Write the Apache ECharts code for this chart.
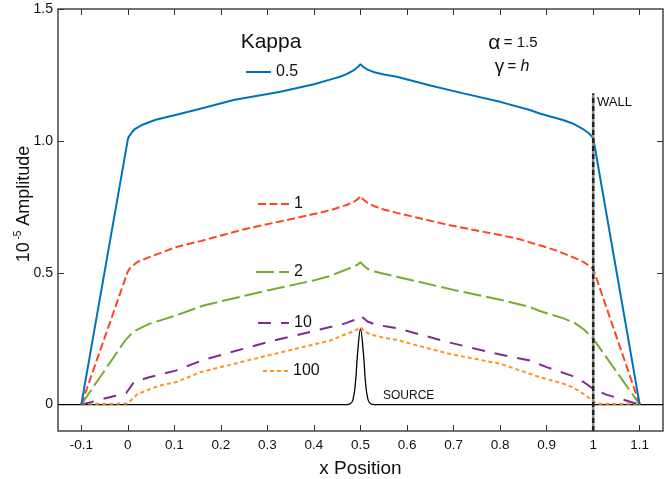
<!doctype html>
<html>
<head>
<meta charset="UTF-8">
<title>Kappa amplitude</title>
<script src="https://cdn.jsdelivr.net/npm/echarts@6/dist/echarts.min.js"></script>
<style>
  html, body { margin: 0; padding: 0; background: #fff; }
  #main { width: 670px; height: 479px; }
</style>
</head>
<body>
<div id="main"></div>
<script>
// values: [x position, amplitude (1e-5)]
var kappa05 = [[-0.1,0],[0,1.005],[0.002,1.015],[0.008,1.03],[0.015,1.045],[0.03,1.06],[0.06,1.08],
  [0.1,1.097],[0.156,1.122],[0.227,1.155],[0.328,1.186],[0.4,1.215],[0.44,1.235],[0.456,1.243],
  [0.47,1.253],[0.485,1.267],[0.495,1.281],[0.5,1.291],[0.505,1.282],[0.515,1.27],[0.53,1.26],
  [0.55,1.252],[0.578,1.243],[0.65,1.21],[0.721,1.18],[0.8,1.148],[0.864,1.117],[0.885,1.104],
  [0.935,1.079],[0.956,1.066],[0.978,1.045],[0.99,1.03],[1.0,1.012],[1.1,0]];
var kappa1 = [[-0.1,0],[0,0.505],[0.006,0.521],[0.02,0.54],[0.046,0.559],[0.103,0.597],[0.156,0.62],
  [0.25,0.665],[0.371,0.711],[0.435,0.737],[0.456,0.749],[0.47,0.757],[0.485,0.768],[0.495,0.78],
  [0.5,0.791],[0.505,0.78],[0.515,0.765],[0.53,0.752],[0.55,0.74],[0.578,0.727],[0.692,0.68],
  [0.8,0.643],[0.842,0.627],[0.885,0.604],[0.92,0.585],[0.956,0.559],[0.98,0.54],[1.0,0.515],[1.1,0]];
var kappa2 = [[-0.1,0],[-0.005,0.245],[0.002,0.258],[0.01,0.275],[0.046,0.306],[0.103,0.338],
  [0.163,0.376],[0.3,0.433],[0.4,0.471],[0.435,0.488],[0.456,0.503],[0.47,0.513],[0.485,0.523],
  [0.495,0.532],[0.5,0.54],[0.505,0.53],[0.515,0.515],[0.53,0.505],[0.55,0.496],[0.578,0.485],
  [0.7,0.435],[0.8,0.398],[0.864,0.37],[0.885,0.355],[0.935,0.328],[0.96,0.31],[0.98,0.285],
  [1.0,0.25],[1.1,0]];
var kappa10 = [[-0.1,0],[-0.026,0.034],[-0.003,0.045],[0,0.05],[0.013,0.085],[0.046,0.104],
  [0.103,0.129],[0.163,0.17],[0.3,0.237],[0.435,0.294],[0.456,0.302],[0.47,0.31],[0.485,0.32],
  [0.495,0.33],[0.5,0.338],[0.505,0.33],[0.515,0.315],[0.53,0.305],[0.55,0.298],[0.578,0.29],
  [0.692,0.235],[0.8,0.19],[0.864,0.167],[0.9,0.142],[0.956,0.108],[0.98,0.085],[1.0,0.06],
  [1.028,0.038],[1.1,0]];
var kappa100 = [[-0.1,0.003],[-0.002,0.004],[0.006,0.015],[0.021,0.04],[0.067,0.072],[0.103,0.085],
  [0.156,0.123],[0.3,0.186],[0.435,0.243],[0.456,0.258],[0.47,0.268],[0.485,0.278],[0.495,0.287],
  [0.5,0.294],[0.505,0.285],[0.515,0.272],[0.53,0.262],[0.55,0.254],[0.578,0.245],[0.692,0.192],
  [0.8,0.155],[0.864,0.117],[0.885,0.104],[0.935,0.08],[0.956,0.066],[0.985,0.034],[1.0,0.012],
  [1.01,0.003],[1.1,0.003]];
var source = [[-0.15,0],[0.47,0],[0.478,0.003],[0.484,0.02],[0.489,0.08],[0.494,0.2],[0.5,0.287],
  [0.506,0.2],[0.511,0.08],[0.516,0.02],[0.522,0.003],[0.53,0],[1.15,0]];
var wall = [[1,-0.1],[1,1.18]];

var xTicks = [-0.1,0,0.1,0.2,0.3,0.4,0.5,0.6,0.7,0.8,0.9,1,1.1];
var xTickLabels = ['-0.1','0','0.1','0.2','0.3','0.4','0.5','0.6','0.7','0.8','0.9','1','1.1'];
var yTicks = [0,0.5,1.0,1.5];
var yTickLabels = ['0','0.5','1.0','1.5'];
var yTicksRight = [0,0.5,1.0];

var FONT = '"Liberation Sans", Arial, Helvetica, sans-serif';

function pick(ticks, labels, v) {
    for (var i = 0; i < ticks.length; i++) {
        if (Math.abs(ticks[i] - v) < 1e-6) return labels[i];
    }
    return '';
}

var myChart = echarts.init(document.getElementById('main'));

function lineSeries(name, data, color, dash) {
    return {
        name: name,
        type: 'line',
        data: data,
        symbol: 'none',
        lineStyle: { color: color, width: 2, type: dash },
        itemStyle: { color: color }
    };
}

function legendAt(name, left, cy, w) {
    return {
        data: [name],
        left: left,
        top: cy - 8,
        padding: 0,
        itemWidth: w,
        itemHeight: 16,
        selectedMode: false,
        itemStyle: { opacity: 0 },
        textStyle: { fontFamily: FONT, fontSize: 16, color: '#111', lineHeight: 16 }
    };
}

var tickStyle = { color: '#333', width: 1 };

var option = {
    animation: false,
    textStyle: { fontFamily: FONT },
    grid: {
        left: 58, right: 7, top: 9, bottom: 48,
        outerBoundsMode: 'none',
        show: true, borderColor: '#444', borderWidth: 1.5
    },
    xAxis: [{
        type: 'value', min: -0.15, max: 1.15,
        axisLine: { show: false, onZero: false },
        splitLine: { show: false },
        axisTick: { inside: true, length: 6, customValues: xTicks, lineStyle: tickStyle },
        axisLabel: {
            customValues: xTicks, margin: 7, fontSize: 13.5, color: '#111',
            formatter: function (v) { return pick(xTicks, xTickLabels, v); }
        },
        name: 'x Position', nameLocation: 'middle', nameGap: 28,
        nameTextStyle: { fontSize: 19, color: '#111' }
    }, {
        type: 'value', min: -0.15, max: 1.15, position: 'top',
        axisLine: { show: false, onZero: false },
        splitLine: { show: false },
        axisTick: { inside: true, length: 6, customValues: xTicks, lineStyle: tickStyle },
        axisLabel: { show: false }
    }],
    yAxis: [{
        type: 'value', min: -0.1, max: 1.5,
        axisLine: { show: false, onZero: false },
        splitLine: { show: false },
        axisTick: { inside: true, length: 6, customValues: yTicks, lineStyle: tickStyle },
        axisLabel: {
            customValues: yTicks, margin: 5, fontSize: 14, color: '#111',
            formatter: function (v) { return pick(yTicks, yTickLabels, v); }
        }
    }, {
        type: 'value', min: -0.1, max: 1.5, position: 'right',
        axisLine: { show: false, onZero: false },
        splitLine: { show: false },
        axisTick: { inside: true, length: 6, customValues: yTicksRight, lineStyle: tickStyle },
        axisLabel: { show: false }
    }],
    legend: [
        legendAt('0.5', 245, 72, 25),
        legendAt('1', 257, 204, 31),
        legendAt('2', 255, 272, 33),
        legendAt('10', 257, 323, 31),
        legendAt('100', 262, 371, 25)
    ],
    series: [
        {
            name: 'source', type: 'line', data: source, symbol: 'none', smooth: 0.4,
            lineStyle: { color: '#000', width: 1.3 }, z: 1
        },
        lineSeries('100', kappa100, '#FF9326', [4, 3]),
        lineSeries('10', kappa10, '#7E2F8E', [13, 10]),
        lineSeries('2', kappa2, '#77AC30', [18, 5]),
        lineSeries('1', kappa1, '#FF4422', [8, 3.5]),
        lineSeries('0.5', kappa05, '#0072BD', 'solid'),
        {
            name: 'wallBase', type: 'line', data: wall, symbol: 'none',
            lineStyle: { color: '#8a8a8a', width: 2.5 }, z: 5
        },
        {
            name: 'wall', type: 'line', data: wall, symbol: 'none',
            lineStyle: { color: '#222', width: 2.5, type: [5, 3] }, z: 6
        }
    ],
    graphic: [
        {
            type: 'text', x: 271, y: 42,
            style: { text: 'Kappa', font: '21px ' + FONT, fill: '#111', align: 'center', verticalAlign: 'middle' }
        },
        {
            type: 'text', x: 513, y: 43,
            style: {
                text: '{g|α} {t|= 1.5}', align: 'center', verticalAlign: 'middle', fill: '#111',
                rich: { g: { fontSize: 21, fontFamily: FONT }, t: { fontSize: 15, fontFamily: FONT } }
            }
        },
        {
            type: 'text', x: 512, y: 67,
            style: {
                text: '{g|γ} {t|= }{i|h}', align: 'center', verticalAlign: 'middle', fill: '#111',
                rich: {
                    g: { fontSize: 19, fontFamily: FONT },
                    t: { fontSize: 15, fontFamily: FONT },
                    i: { fontSize: 16, fontFamily: FONT, fontStyle: 'italic' }
                }
            }
        },
        {
            type: 'text', x: 597, y: 102,
            style: { text: 'WALL', font: '13px ' + FONT, fill: '#111', verticalAlign: 'middle' }
        },
        {
            type: 'text', x: 383, y: 396,
            style: { text: 'SOURCE', font: '12px ' + FONT, fill: '#111', verticalAlign: 'middle' }
        },
        {
            type: 'text', x: 24, y: 204, rotation: Math.PI / 2,
            style: {
                text: '{n|10}{s| -5}{n| Amplitude}', align: 'center', verticalAlign: 'middle', fill: '#111',
                rich: {
                    n: { fontSize: 18, fontFamily: FONT, lineHeight: 22 },
                    s: { fontSize: 10, fontFamily: FONT, verticalAlign: 'top', lineHeight: 22 }
                }
            }
        }
    ]
};
myChart.setOption(option);
</script>
</body>
</html>
